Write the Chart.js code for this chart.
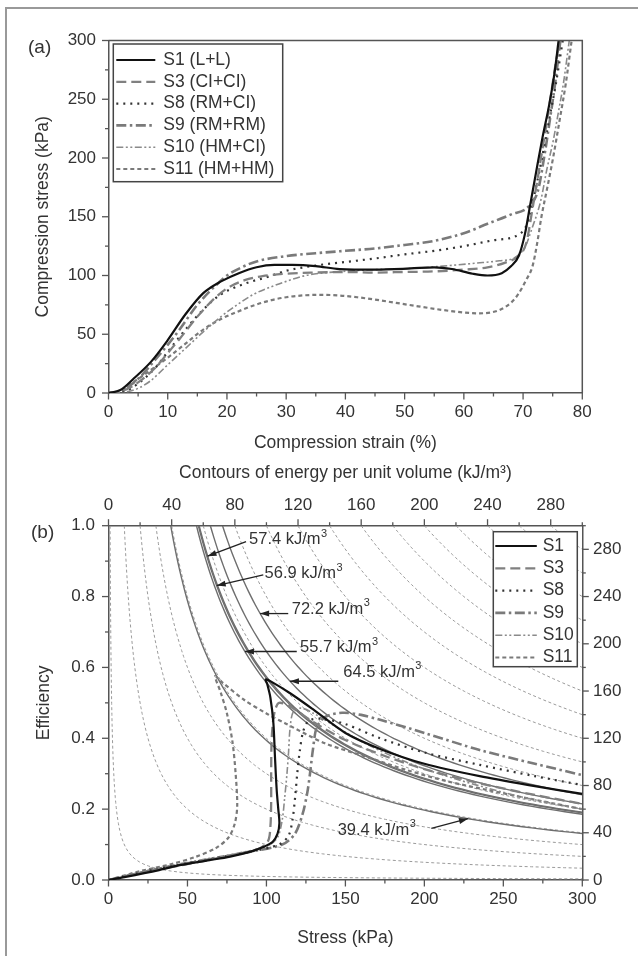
<!DOCTYPE html>
<html>
<head>
<meta charset="utf-8">
<script src="https://cdn.jsdelivr.net/npm/chart.js@4.4.1/dist/chart.umd.min.js"></script>
<style>
  html, body { margin: 0; padding: 0; background: #fff; }
  body { width: 638px; height: 956px; position: relative; overflow: hidden; font-family: "Liberation Sans", Arial, sans-serif; }
  #frame { position: absolute; left: 5px; top: 7px; width: 700px; height: 1000px; border: 2px solid #999; box-sizing: border-box; }
  canvas { position: absolute; left: 0; }
  #chartA { top: 0; }
  #chartB { top: 458px; }
  .panel { position: absolute; font-size: 19px; line-height: 22px; color: #333; }
</style>
</head>
<body>
<div id="frame"></div>
<canvas id="chartA" width="638" height="458"></canvas>
<canvas id="chartB" width="638" height="498"></canvas>
<div class="panel" style="left:28px; top:36px">(a)</div>
<div class="panel" style="left:31px; top:521px">(b)</div>
<script>
// ---- (a) compression stress (kPa) vs compression strain (%) ----
const s1Curve = [[0,0],[2,2.5],[4.3,12.5],[7.2,26.7],[10,45],[13,67],[16,85],[19,95],[22,102],[25,107],[28,109],[31,109],[35,108],[39,105.5],[45,105],[51,106],[55,107],[58,105.5],[61.5,101.5],[64,100],[66.4,102],[68,108],[69.3,117],[70.3,135],[71.2,160],[72.2,188],[73.3,218],[74.4,245],[75.3,272],[76,300]];
const s3Curve = [[0,0],[3,3],[5,9],[8,22],[10,34],[12,46],[15,65],[18,81],[20,89],[23,96],[26,99.5],[30,101.5],[35,102.5],[40,103],[45,102.5],[50,103],[55,103.5],[60,105],[64,107],[67,111],[69,116],[70.5,127],[71.7,160],[72.7,190],[73.7,221],[74.6,250],[75.4,277],[76.2,300]];
const s8Curve = [[0,0],[3,2],[5,8],[8,22],[10,35],[13,54],[16,71],[19,84],[23,93],[27,99],[30,104],[35,108.5],[40,111.5],[45,114.5],[50,118],[55,121],[60,125],[65,130],[69.6,136],[71,148],[71.7,164],[73,195],[74.3,230],[75.5,262],[76.7,300]];
const s9Curve = [[0,0],[2,1.5],[5,12],[8,29],[10,41],[12,54],[15,75],[18,91],[20,100],[22.5,107],[25,112],[30,116.5],[35,119],[40,121],[45,123],[50,126],[55,129.5],[60,136],[64,144],[68,152],[71,159],[72.5,172],[73.7,205],[74.6,235],[75.4,263],[76.3,300]];
const s10Curve = [[0,0],[3,1],[5,4],[7,10],[10,24],[13,38],[16,52],[19,65],[21.7,75],[24.5,84],[27.5,90.5],[30,95],[33.3,100],[36,102],[39,103.3],[45,105],[50.7,106],[56.5,108],[62,110.5],[66,112.5],[68.5,115],[70.3,124],[71.5,140],[73,164],[74,190],[75.1,215],[76,240],[76.8,263],[77.8,300]];
const s11Curve = [[0,0],[2,2],[4.3,9.6],[7,19],[10,30],[13,42],[16,54],[19,63],[21.7,69],[24.5,74.5],[27.5,79],[30,81.5],[33.3,83.2],[36,83.5],[39,83],[42,81.5],[45,79.5],[50.7,75],[56.5,70.6],[60,68.5],[62.3,67.8],[64.5,68.5],[66,70.6],[68,77],[69.3,85],[70.5,96],[71.6,108],[72.4,128],[73.1,150],[74.1,175],[75.1,201],[76.2,233],[77.2,263],[78.2,300]];
const seriesNamesA = ['S1 (L+L)', 'S3 (CI+CI)', 'S8 (RM+CI)', 'S9 (RM+RM)', 'S10 (HM+CI)', 'S11 (HM+HM)'];

// ---- (b) efficiency vs stress (kPa) ----
const s1Eff = [[0,0],[10,0.008],[32,0.028],[45,0.042],[64,0.056],[77,0.066],[90,0.08],[98,0.093],[104,0.108],[107,0.13],[108.2,0.16],[107.5,0.2],[106.5,0.254],[105.4,0.348],[104.4,0.443],[102.5,0.515],[100.5,0.553],[99.5,0.566],[103,0.56],[115,0.527],[130,0.48],[150,0.415],[172,0.37],[200,0.328],[235,0.293],[270,0.265],[300,0.243]];
const s3Eff = [[0,0],[20,0.02],[50,0.045],[80,0.072],[95,0.088],[101,0.11],[102.5,0.15],[103,0.22],[103,0.3],[103.2,0.38],[104,0.44],[105.5,0.48],[108,0.5],[115,0.49],[130,0.445],[150,0.395],[175,0.35],[200,0.313],[235,0.273],[270,0.24],[300,0.215]];
const s8Eff = [[0,0],[30,0.03],[60,0.055],[90,0.08],[108,0.1],[114,0.125],[116.5,0.17],[118,0.226],[119.5,0.3],[121,0.36],[123.3,0.42],[127,0.45],[135,0.455],[150,0.44],[172,0.4],[200,0.36],[235,0.325],[270,0.293],[300,0.268]];
const s9Eff = [[0,0],[30,0.03],[60,0.055],[90,0.08],[110,0.1],[118,0.13],[123,0.188],[126,0.25],[127.6,0.301],[129.5,0.37],[131.8,0.43],[137,0.46],[148,0.472],[160,0.466],[172,0.452],[200,0.415],[235,0.367],[270,0.328],[300,0.296]];
const s10Eff = [[0,0],[25,0.027],[50,0.05],[80,0.074],[100,0.095],[107,0.12],[110,0.17],[111.5,0.23],[113,0.3],[114,0.36],[115,0.43],[117,0.475],[122,0.485],[130,0.47],[145,0.43],[165,0.38],[190,0.33],[220,0.285],[260,0.236],[300,0.2]];
const s11Eff = [[0,0],[20,0.025],[40,0.045],[55,0.065],[68,0.09],[76,0.12],[80,0.16],[81.5,0.21],[80.5,0.3],[78.5,0.39],[75,0.47],[71,0.53],[67.5,0.575],[72,0.558],[86,0.508],[100,0.47],[112,0.442],[137,0.386],[163,0.348],[189,0.31],[215,0.278],[240,0.254],[266,0.23],[300,0.2]];
const seriesNamesB = ['S1', 'S3', 'S8', 'S9', 'S10', 'S11'];

// energy contour levels (kJ/m3) and the labelled ones
const contourLevels = [1, 10, 20, 30, 40, 60, 80, 100, 120, 140, 160, 180, 200, 220, 240, 260, 280];
const labelledEnergies = [57.4, 56.9, 72.2, 55.7, 64.5, 39.4];

// where each energy label and its arrow sit, in (stress, efficiency)
const noteLayout = [
  {tip: [62.7, 0.914], tail: [87.1, 0.955], text: [89, 0.96]},
  {tip: [68.5, 0.831], tail: [98, 0.861], text: [98.8, 0.865]},
  {tip: [96, 0.752], tail: [113.8, 0.752], text: [116, 0.764]},
  {tip: [86.4, 0.645], tail: [119.2, 0.645], text: [121.3, 0.656]},
  {tip: [114.9, 0.561], tail: [145.5, 0.561], text: [148.7, 0.586]},
  {tip: [227.6, 0.173], tail: [204.4, 0.146], text: [145.1, 0.141]}
];

const axisColor = '#555';
const textColor = '#333';
Chart.defaults.font.family = '"Liberation Sans", Arial, sans-serif';
Chart.defaults.color = textColor;

const seriesStyles = [
  {borderColor: '#111', borderWidth: 2.2, borderDash: []},
  {borderColor: '#808080', borderWidth: 2.3, borderDash: [10, 5]},
  {borderColor: '#333', borderWidth: 2.2, borderDash: [2, 5]},
  {borderColor: '#7a7a7a', borderWidth: 2.6, borderDash: [10, 3.5, 2.5, 3.5]},
  {borderColor: '#8a8a8a', borderWidth: 1.6, borderDash: [7, 2.5, 2, 2.5, 2, 2.5]},
  {borderColor: '#7a7a7a', borderWidth: 2.2, borderDash: [4, 3]}
];

function toPoints(pairs) {
  return pairs.map(p => ({x: p[0], y: p[1]}));
}

// one contour of constant energy: efficiency = energy / stress
function energyContour(level) {
  const pts = [];
  const n = 90;
  for (let k = 0; k <= n; k++) {
    const s = level * Math.pow(300 / level, k / n);
    pts.push({x: s, y: level / s});
  }
  return pts;
}

// outward tick marks, longer where there is a label
const tickMarks = {
  id: 'tickMarks',
  afterDraw(chart) {
    const ctx = chart.ctx;
    ctx.save();
    ctx.strokeStyle = axisColor;
    ctx.lineWidth = 1.3;
    Object.values(chart.scales).forEach(scale => {
      scale.ticks.forEach(t => {
        const p = scale.getPixelForValue(t.value);
        const len = t.label === '' ? 3.5 : 6.5;
        ctx.beginPath();
        if (scale.position === 'bottom') { ctx.moveTo(p, scale.top); ctx.lineTo(p, scale.top + len); }
        else if (scale.position === 'top') { ctx.moveTo(p, scale.bottom); ctx.lineTo(p, scale.bottom - len); }
        else if (scale.position === 'left') { ctx.moveTo(scale.right, p); ctx.lineTo(scale.right - len, p); }
        else { ctx.moveTo(scale.left, p); ctx.lineTo(scale.left + len, p); }
        ctx.stroke();
      });
    });
    ctx.restore();
  }
};

// closes the plot box on top and right
const plotFrame = {
  id: 'plotFrame',
  afterDraw(chart, args, opts) {
    if (!opts.show) return;
    const a = chart.chartArea, ctx = chart.ctx;
    ctx.save();
    ctx.strokeStyle = axisColor;
    ctx.lineWidth = 1.5;
    ctx.beginPath();
    ctx.moveTo(a.left, a.top);
    ctx.lineTo(a.right, a.top);
    ctx.lineTo(a.right, a.bottom);
    ctx.stroke();
    ctx.restore();
  }
};

// boxed legend inside the plot
const boxLegend = {
  id: 'boxLegend',
  afterDatasetsDraw(chart, args, o) {
    const area = chart.chartArea, ctx = chart.ctx;
    const left = o.fromRight ? area.right - o.dx : area.left + o.dx;
    const top = area.top + o.dy;
    ctx.save();
    ctx.fillStyle = '#fff';
    ctx.fillRect(left, top, o.width, o.height);
    ctx.strokeStyle = '#444';
    ctx.lineWidth = 1.5;
    ctx.strokeRect(left, top, o.width, o.height);
    ctx.font = o.fontSize + 'px "Liberation Sans", Arial, sans-serif';
    ctx.textBaseline = 'middle';
    for (let i = 0; i < o.count; i++) {
      const ds = chart.data.datasets[i];
      const y = top + o.firstRow + i * o.rowStep;
      ctx.beginPath();
      ctx.setLineDash(ds.borderDash || []);
      ctx.strokeStyle = ds.borderColor;
      ctx.lineWidth = ds.borderWidth;
      ctx.moveTo(left + o.lineFrom, y);
      ctx.lineTo(left + o.lineTo, y);
      ctx.stroke();
      ctx.setLineDash([]);
      ctx.fillStyle = textColor;
      ctx.fillText(ds.label, left + o.textAt, y);
    }
    ctx.restore();
  }
};

// energy labels with arrows on panel (b)
const energyNotes = {
  id: 'energyNotes',
  afterDatasetsDraw(chart, args, o) {
    if (!o.show) return;
    const xs = chart.scales.x, ys = chart.scales.y, ctx = chart.ctx;
    ctx.save();
    labelledEnergies.forEach((w, i) => {
      const n = noteLayout[i];
      const tx = xs.getPixelForValue(n.tip[0]), ty = ys.getPixelForValue(n.tip[1]);
      const fx = xs.getPixelForValue(n.tail[0]), fy = ys.getPixelForValue(n.tail[1]);
      ctx.strokeStyle = '#222';
      ctx.fillStyle = '#222';
      ctx.lineWidth = 1.3;
      ctx.beginPath();
      ctx.moveTo(fx, fy);
      ctx.lineTo(tx, ty);
      ctx.stroke();
      const ang = Math.atan2(ty - fy, tx - fx);
      ctx.beginPath();
      ctx.moveTo(tx, ty);
      ctx.lineTo(tx - 9 * Math.cos(ang) + 3 * Math.sin(ang), ty - 9 * Math.sin(ang) - 3 * Math.cos(ang));
      ctx.lineTo(tx - 9 * Math.cos(ang) - 3 * Math.sin(ang), ty - 9 * Math.sin(ang) + 3 * Math.cos(ang));
      ctx.closePath();
      ctx.fill();
      const px = xs.getPixelForValue(n.text[0]), py = ys.getPixelForValue(n.text[1]);
      ctx.fillStyle = textColor;
      ctx.textBaseline = 'middle';
      ctx.font = '16.5px "Liberation Sans", Arial, sans-serif';
      const main = w.toFixed(1) + ' kJ/m';
      ctx.fillText(main, px, py);
      const mw = ctx.measureText(main).width;
      ctx.font = '11px "Liberation Sans", Arial, sans-serif';
      ctx.fillText('3', px + mw + 0.5, py - 6);
    });
    ctx.restore();
  }
};

function axisBase(min, max, step, labelEvery, padding, fmt) {
  return {
    type: 'linear', min: min, max: max,
    ticks: {
      stepSize: step, padding: padding, color: textColor, font: {size: 17},
      autoSkip: false, maxRotation: 0,
      callback: v => {
        const k = Math.round(v / step);
        return k % labelEvery === 0 ? fmt(v) : '';
      }
    },
    grid: {drawOnChartArea: false, drawTicks: false},
    border: {color: axisColor, width: 1.5}
  };
}

// ---------- chart (a) ----------
const dsA = [s1Curve, s3Curve, s8Curve, s9Curve, s10Curve, s11Curve].map((c, i) => Object.assign({
  label: seriesNamesA[i], data: toPoints(c), showLine: true, pointRadius: 0, fill: false,
  cubicInterpolationMode: 'monotone'
}, seriesStyles[i]));

const xA = axisBase(0, 80, 5, 2, 9.5, v => String(v));
xA.position = 'bottom';
xA.title = {display: true, text: 'Compression strain (%)', color: textColor, font: {size: 17.5}, padding: {top: 0, bottom: 4.5}};
xA.afterFit = s => { s.height = 65; };
const yA = axisBase(0, 300, 25, 2, 12.5, v => String(v));
yA.position = 'left';
yA.title = {display: true, text: 'Compression stress (kPa)', color: textColor, font: {size: 17.5}, padding: {top: 33, bottom: 0}};
yA.afterFit = s => { s.width = 108.5; };

new Chart(document.getElementById('chartA'), {
  type: 'scatter',
  data: {datasets: dsA},
  options: {
    responsive: false, animation: false, devicePixelRatio: 1, events: [],
    layout: {padding: {left: 0, right: 55.7, top: 40.5, bottom: 0}},
    scales: {x: xA, y: yA},
    plugins: {
      legend: {display: false}, tooltip: {enabled: false},
      plotFrame: {show: true},
      energyNotes: {show: false},
      boxLegend: {fromRight: false, dx: 4.8, dy: 3.5, width: 169.4, height: 137.7, firstRow: 16, rowStep: 21.8,
                  lineFrom: 3, lineTo: 42, textAt: 50, fontSize: 17.5, count: 6}
    }
  },
  plugins: [tickMarks, plotFrame, boxLegend, energyNotes]
});

// ---------- chart (b) ----------
const dsB = [s1Eff, s3Eff, s8Eff, s9Eff, s10Eff, s11Eff].map((c, i) => Object.assign({
  label: seriesNamesB[i], data: toPoints(c), showLine: true, pointRadius: 0, fill: false, tension: 0.3
}, seriesStyles[i]));
labelledEnergies.forEach(w => dsB.push({
  label: w + ' kJ/m3', data: energyContour(w), showLine: true, pointRadius: 0, fill: false,
  borderColor: '#6e6e6e', borderWidth: 1.4, tension: 0
}));
contourLevels.forEach(w => dsB.push({
  label: 'W=' + w, data: energyContour(w), showLine: true, pointRadius: 0, fill: false,
  borderColor: '#9a9a9a', borderWidth: 1, borderDash: [3, 2.5], tension: 0
}));

const xB = axisBase(0, 300, 25, 2, 9.1, v => String(v));
xB.position = 'bottom';
xB.title = {display: true, text: 'Stress (kPa)', color: textColor, font: {size: 17.5}, padding: {top: 0, bottom: 7.5}};
xB.afterFit = s => { s.height = 76; };
const yB = axisBase(0, 1, 0.1, 2, 13.5, v => v.toFixed(1));
yB.position = 'left';
yB.title = {display: true, text: 'Efficiency', color: textColor, font: {size: 17.5}, padding: {top: 33.5, bottom: 0}};
yB.afterFit = s => { s.width = 108.5; };
const x2B = axisBase(0, 300, 20, 2, 9.8, v => String(v));
x2B.position = 'top';
x2B.axis = 'x';
x2B.title = {display: true, text: 'Contours of energy per unit volume (kJ/m\u00B3)', color: textColor, font: {size: 17.5}, padding: {top: 4.5, bottom: 0}};
x2B.afterFit = s => { s.height = 67.7; };
const y2B = axisBase(0, 300, 20, 2, 10.7, v => String(v));
y2B.position = 'right';
y2B.axis = 'y';
y2B.afterFit = s => { s.width = 55.7; };

new Chart(document.getElementById('chartB'), {
  type: 'scatter',
  data: {datasets: dsB},
  options: {
    responsive: false, animation: false, devicePixelRatio: 1, events: [],
    layout: {padding: 0},
    scales: {x: xB, y: yB, x2: x2B, y2: y2B},
    plugins: {
      legend: {display: false}, tooltip: {enabled: false},
      plotFrame: {show: false},
      energyNotes: {show: true},
      boxLegend: {fromRight: true, dx: 89, dy: 6, width: 84, height: 135, firstRow: 14.3, rowStep: 22.3,
                  lineFrom: 2, lineTo: 43.5, textAt: 49.4, fontSize: 17.5, count: 6}
    }
  },
  plugins: [tickMarks, plotFrame, boxLegend, energyNotes]
});
</script>
</body>
</html>
